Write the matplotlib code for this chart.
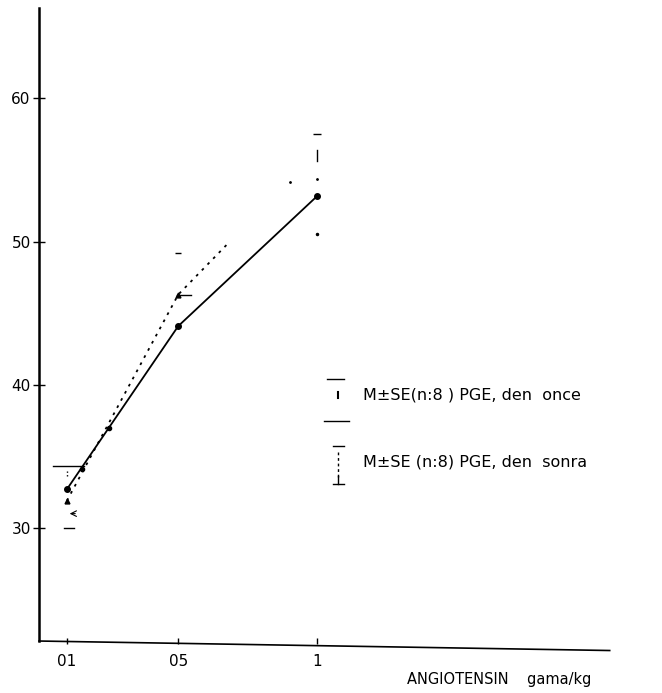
import matplotlib
matplotlib.use('Agg')
import matplotlib.pyplot as plt

# doses (gama/kg) and responses
dose_ticks = [0.1, 0.5, 1.0]
dose_labels = ['01', '05', '1']
y_ticks = [30, 40, 50, 60]

# before PGE1 ("once"), solid line
once_x = [0.1, 0.5, 1.0]
once_y = [32.7, 44.1, 53.2]
once_dots_x = [0.155, 0.25]
once_dots_y = [34.1, 37.0]

# after PGE1 ("sonra"), dotted line
sonra_x = [0.1, 0.5, 0.68]
sonra_y = [31.9, 46.3, 49.9]

# error bar marks (upper / lower)
once_hi = [34.3, 49.2, 57.5]
once_lo = [30.0, 43.8, 50.5]
sonra_hi = [34.0, 46.3, 56.0]
sonra_lo = [31.0, 46.0, 54.4]

fig = plt.figure(figsize=(6.62, 6.93), dpi=100)
ax = fig.add_axes([0.059, 0.075, 0.862, 0.913])
ax.set_xlim(0, 2.05)
ax.set_ylim(22.1, 66.3)

ax.plot(once_x, once_y, 'k-', lw=1.3, marker='o', ms=4)
ax.plot(once_dots_x, once_dots_y, 'ko', ms=3)
ax.plot(sonra_x, sonra_y, color='k', lw=1.3, linestyle=(0, (1.5, 3)), marker=None)
ax.plot(sonra_x[:2], sonra_y[:2], 'k^', ms=3.5)

# error bar marks
ax.plot([0.05, 0.16], [once_hi[0], once_hi[0]], 'k-', lw=1)
ax.plot([0.09, 0.125], [once_lo[0], once_lo[0]], 'k-', lw=1)
ax.annotate('', xy=(0.1, sonra_lo[0]), xytext=(0.14, sonra_lo[0]),
            arrowprops=dict(arrowstyle='->', lw=0.8, color='k'))
ax.plot([0.1, 0.1], [33.6, 34.0], 'k:', lw=1)
ax.plot([0.5], [once_hi[1]], 'k_', ms=5)
ax.plot([0.495, 0.545], [sonra_hi[1], sonra_hi[1]], 'k-', lw=1)
ax.plot([1.0], [once_hi[2]], 'k_', ms=6)
ax.plot([1.0, 1.0], [55.6, 56.4], 'k-', lw=1)
ax.plot([1.0], [sonra_lo[2]], 'k.', ms=2)
ax.plot([1.0], [once_lo[2]], 'k.', ms=3)
ax.plot([0.9], [54.2], 'k.', ms=2)

# legend drawn by hand like in the scan
lx = 1.075
ax.plot([lx - 0.04, lx + 0.02], [40.4, 40.4], 'k-', lw=1)
ax.plot([lx, lx], [39.1, 39.5], 'k-', lw=1.5)
ax.plot([lx - 0.05, lx + 0.04], [37.5, 37.5], 'k-', lw=1)
ax.text(lx + 0.09, 39.3, 'M±SE(n:8 ) PGE, den  once', fontsize=11.5, va='center')
ax.plot([lx - 0.02, lx + 0.02], [35.7, 35.7], 'k-', lw=1)
ax.plot([lx, lx], [35.3, 33.5], 'k', linestyle=(0, (2, 2)), lw=1)
ax.plot([lx - 0.02, lx + 0.02], [33.1, 33.1], 'k-', lw=1)
ax.plot([lx, lx], [33.1, 33.6], 'k-', lw=1)
ax.text(lx + 0.09, 34.6, 'M±SE (n:8) PGE, den  sonra', fontsize=11.5, va='center')

ax.set_xticks(dose_ticks)
ax.set_xticklabels(dose_labels)
ax.set_yticks(y_ticks)
ax.tick_params(axis='y', direction='inout', length=8, width=1, labelsize=11, pad=2)
ax.tick_params(axis='x', direction='inout', length=4, width=1, labelsize=11, pad=7)
for s in ['top', 'right', 'bottom']:
    ax.spines[s].set_visible(False)
ax.spines['left'].set_linewidth(1.8)
# slightly slanted baseline like the scan
ax.plot([0, 1], [0, -0.015], 'k-', lw=1.2, transform=ax.transAxes, clip_on=False)
ax.text(0.645, -0.068, 'ANGIOTENSIN    gama/kg', fontsize=10.5, transform=ax.transAxes)

plt.savefig('out.png', dpi=100)
